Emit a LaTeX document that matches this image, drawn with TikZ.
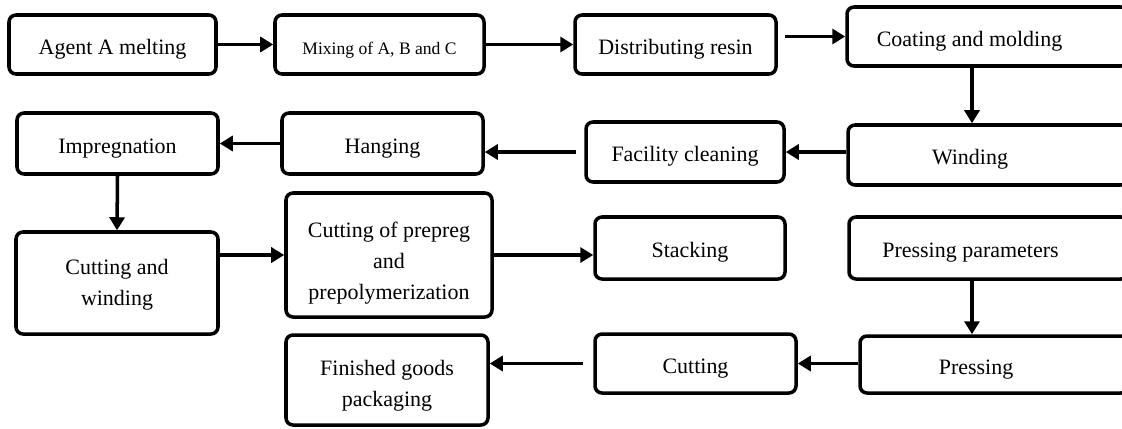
\documentclass[tikz,border=0pt]{standalone}
\usepackage{fontspec}
\setmainfont{Liberation Serif}
\usepackage{tikz}
\usetikzlibrary{arrows.meta,positioning}
\tikzset{
  box/.style={draw,rounded corners=4pt,align=center,line width=2pt,inner sep=2pt,
    font=\fontsize{12.5}{17.5}\selectfont,execute at begin node={\rule{0pt}{#1}}},
  box/.default=14pt,
  edgebox/.style={box,execute at end node={\hspace*{0.72cm}}},
  arr/.style={-{Triangle[length=0.26cm,width=0.3cm]},line width=2pt},
}
\begin{document}
\begin{tikzpicture}
\useasboundingbox (0,0) rectangle (22.44,8.56);
\clip (0,0) rectangle (22.44,8.56);
% first row
\node[box,minimum width=4.14cm,minimum height=1.18cm] (agent) at (2.25,7.67) {Agent A melting};
\node[box,minimum width=4.18cm,minimum height=1.18cm,font=\fontsize{10}{12}\selectfont] (mixing) at (7.59,7.67) {Mixing of A, B and C};
\node[box,minimum width=4.02cm,minimum height=1.18cm] (distrib) at (13.51,7.67) {Distributing resin};
\node[edgebox,minimum width=5.62cm,minimum height=1.18cm] (coating) at (19.75,7.83) {Coating and molding};
% second row
\node[edgebox,minimum width=5.60cm,minimum height=1.20cm] (winding) at (19.76,5.46) {Winding};
\node[box,minimum width=3.96cm,minimum height=1.20cm] (facility) at (13.70,5.52) {Facility cleaning};
\node[box,minimum width=4.02cm,minimum height=1.22cm] (hanging) at (7.65,5.69) {Hanging};
\node[box,minimum width=4.02cm,minimum height=1.22cm] (impreg) at (2.35,5.69) {Impregnation};
% third row
\node[box=28pt,minimum width=4.04cm,minimum height=2.04cm] (cutwind) at (2.34,2.90) {Cutting and\\winding};
\node[box=53pt,minimum width=4.12cm,minimum height=2.48cm] (prepreg) at (7.78,3.46) {Cutting of prepreg\\and\\prepolymerization};
\node[box,minimum width=3.80cm,minimum height=1.24cm] (stacking) at (13.80,3.60) {Stacking};
\node[edgebox,minimum width=5.58cm,minimum height=1.24cm] (pparam) at (19.77,3.60) {Pressing parameters};
% last row
\node[edgebox,minimum width=5.36cm,minimum height=1.14cm] (pressing) at (19.88,1.27) {Pressing};
\node[box,minimum width=4.02cm,minimum height=1.18cm] (cutting) at (13.91,1.29) {Cutting};
\node[box=33pt,minimum width=4.04cm,minimum height=1.80cm] (finished) at (7.74,0.96) {Finished goods\\packaging};
% connectors
\draw[arr] (agent) -- (mixing);
\draw[arr] (mixing) -- (distrib);
\draw[arr] ([xshift=0.14cm]distrib.east |- coating.west) -- (coating.west);
\draw[arr] ([xshift=-0.31cm]coating.south) -- ([xshift=-0.31cm]coating.south |- winding.north);
\draw[arr] (winding.west |- facility.east) -- (facility.east);
\draw[arr] ([xshift=-0.16cm]facility.west) -- (facility.west -| hanging.east);
\draw[arr] (hanging) -- (impreg);
\draw[arr] (impreg.south) -- (cutwind.north);
\draw[arr] (cutwind.east |- prepreg.west) -- (prepreg.west);
\draw[arr] (prepreg.east) -- (prepreg.east -| stacking.west);
\draw[arr] ([xshift=-0.33cm]pparam.south) -- ([xshift=-0.33cm]pparam.south |- pressing.north);
\draw[arr] (pressing.west |- cutting.east) -- (cutting.east);
\draw[arr] ([xshift=-0.2cm]cutting.west) -- (cutting.west -| finished.east);
\end{tikzpicture}
\end{document}
